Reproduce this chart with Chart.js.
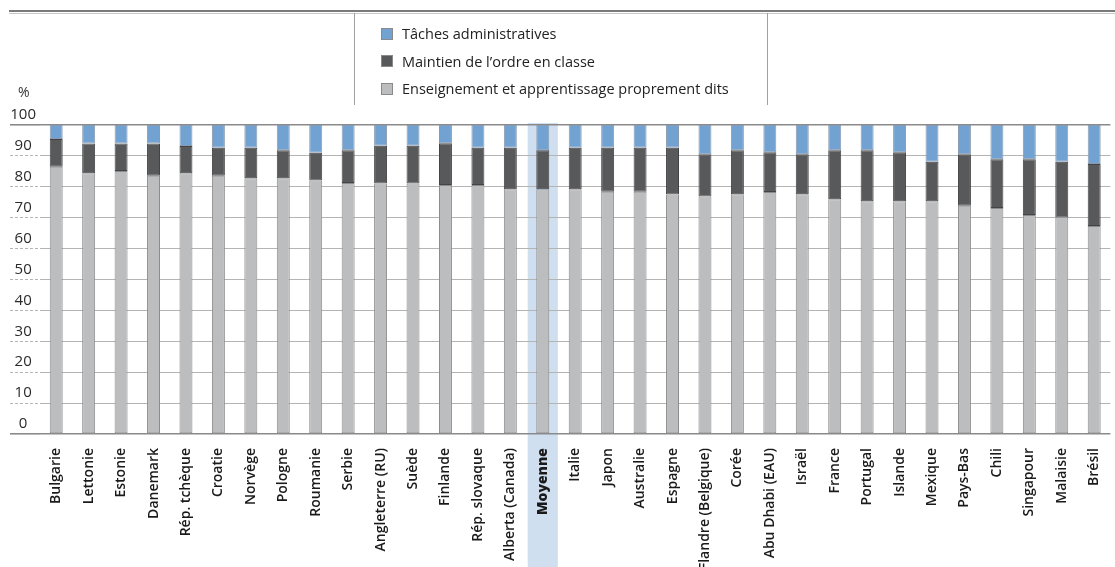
<!DOCTYPE html>
<html lang="fr">
<head>
<meta charset="utf-8">
<title>Répartition du temps de classe</title>
<script src="https://cdn.jsdelivr.net/npm/chart.js@4.4.1/dist/chart.umd.min.js"></script>
<style>
  html, body { margin: 0; padding: 0; background: #fff; overflow: hidden; }
  #wrap { position: relative; width: 1117px; height: 567px; }
  #chart { position: absolute; left: 0; top: 0; }
  .rule { position: absolute; left: 9px; right: 0; top: 10px; height: 1px; border-top: 2px solid #7a7a7a; border-bottom: 1px solid #c8c8c8; }
  .vline { position: absolute; top: 13px; height: 92px; width: 1px; background: #a0a0a0; }
  #legend { position: absolute; left: 381px; top: 20px; font-family: "Open Sans", sans-serif; font-size: 14.5px; color: #222; }
  #legend .item { height: 27.5px; display: flex; align-items: center; }
  #legend .box { width: 12px; height: 12px; margin-right: 9px; box-sizing: border-box; border: 1px solid #8a8a8a; }
  #unit { position: absolute; left: 18px; top: 82px; font-family: "Open Sans", sans-serif; font-size: 14px; color: #333; }
</style>
</head>
<body>
<div id="wrap">
  <canvas id="chart" width="1117" height="567"></canvas>
  <div class="rule"></div>
  <div class="vline" style="left:354px"></div>
  <div class="vline" style="left:767px"></div>
  <div id="legend"></div>
  <div id="unit">%</div>
</div>
<script>
// Share of lesson time, in %
const pays = ['Bulgarie', 'Lettonie', 'Estonie', 'Danemark', 'Rép. tchèque', 'Croatie', 'Norvège',
  'Pologne', 'Roumanie', 'Serbie', 'Angleterre (RU)', 'Suède', 'Finlande', 'Rép. slovaque',
  'Alberta (Canada)', 'Moyenne', 'Italie', 'Japon', 'Australie', 'Espagne', 'Flandre (Belgique)',
  'Corée', 'Abu Dhabi (EAU)', 'Israël', 'France', 'Portugal', 'Islande', 'Mexique', 'Pays-Bas',
  'Chili', 'Singapour', 'Malaisie', 'Brésil'];

const enseignement = [86.5, 84.4, 85.1, 83.6, 84.4, 83.6, 82.8, 82.8, 82.0, 81.2, 81.1, 81.1, 80.6,
  80.6, 79.2, 79.2, 79.2, 78.4, 78.4, 77.5, 76.9, 77.6, 78.3, 77.6, 76.0, 75.3, 75.3, 75.3, 73.9,
  73.1, 70.9, 70.1, 67.3];
const ordre = [9.0, 9.6, 8.9, 10.4, 8.8, 9.0, 9.8, 9.0, 9.0, 10.6, 12.2, 12.2, 13.5, 12.0, 13.4,
  12.6, 13.4, 14.2, 14.2, 15.1, 13.6, 14.2, 12.9, 12.9, 15.8, 16.5, 15.9, 12.8, 16.6, 15.8, 18.0,
  18.0, 20.1];
const administratives = [4.5, 6.0, 6.0, 6.0, 6.8, 7.4, 7.4, 8.2, 9.0, 8.2, 6.7, 6.7, 5.9, 7.4, 7.4,
  8.2, 7.4, 7.4, 7.4, 7.4, 9.5, 8.2, 8.8, 9.5, 8.2, 8.2, 8.8, 11.9, 9.5, 11.1, 11.1, 11.9, 12.6];

const yTicks = [0, 10, 20, 30, 40, 50, 60, 70, 80, 90, 100];
const moyenneIdx = pays.indexOf('Moyenne');

// light band behind the average column
const highlight = {
  id: 'highlight',
  beforeDraw(chart) {
    const { ctx, scales: { x }, chartArea } = chart;
    const step = x.getPixelForValue(1) - x.getPixelForValue(0);
    const cx = x.getPixelForValue(moyenneIdx);
    const w = step * 0.93;
    ctx.save();
    ctx.fillStyle = '#cfdff0';
    ctx.fillRect(cx - w / 2, chartArea.top - 2, w, chart.height - chartArea.top + 2);
    ctx.restore();
  }
};

const chart = new Chart(document.getElementById('chart'), {
  type: 'bar',
  data: {
    labels: pays,
    datasets: [
      { label: 'Enseignement et apprentissage proprement dits', data: enseignement,
        backgroundColor: '#bcbdbf', borderColor: '#8c8c8c' },
      { label: 'Maintien de l\u2019ordre en classe', data: ordre,
        backgroundColor: '#58595b', borderColor: '#444446' },
      { label: 'Tâches administratives', data: administratives,
        backgroundColor: '#72a2d1', borderColor: '#8a9bb0' }
    ]
  },
  options: {
    responsive: false,
    animation: false,
    events: [],
    layout: { padding: { top: 125, left: 10, right: 0, bottom: 0 } },
    datasets: {
      bar: { barPercentage: 0.4, categoryPercentage: 1, borderWidth: 1, borderSkipped: false }
    },
    plugins: { legend: { display: false }, tooltip: { enabled: false } },
    scales: {
      x: {
        stacked: true,
        grid: { display: false },
        border: { display: false },
        ticks: {
          autoSkip: false,
          maxRotation: 90,
          minRotation: 90,
          padding: 6,
          color: '#1a1a1a',
          font: ctx => ({ family: '"Open Sans", sans-serif', size: 14,
            weight: ctx.index === moyenneIdx ? 800 : 600 })
        },
        afterFit: scale => { scale.height = 133; }
      },
      y: {
        stacked: true,
        min: 0,
        max: 100,
        border: { display: false },
        afterBuildTicks: scale => { scale.ticks = yTicks.map(v => ({ value: v })); },
        afterFit: scale => { scale.width = 30; },
        grid: {
          tickLength: 30,
          color: ctx => (ctx.tick.value % 100 === 0 ? '#8a8a8a' : '#b4b4b4'),
          tickColor: ctx => (ctx.tick.value % 100 === 0 ? '#8a8a8a' : '#b4b4b4'),
          lineWidth: ctx => (ctx.tick.value % 100 === 0 ? 1.6 : 1),
          tickWidth: ctx => (ctx.tick.value % 100 === 0 ? 1.6 : 1),
          borderDash: ctx => (ctx.tick.value % 100 === 0 ? [] : [3, 2]),
          tickBorderDash: ctx => (ctx.tick.value % 100 === 0 ? [] : [3, 2])
        },
        ticks: {
          crossAlign: 'center',
          padding: -26,
          labelOffset: -10,
          color: '#2a2a2a',
          font: { family: '"Open Sans", sans-serif', size: 15 }
        }
      }
    }
  },
  plugins: [highlight]
});

// legend, top entry first
const legend = document.getElementById('legend');
chart.data.datasets.slice().reverse().forEach(ds => {
  const item = document.createElement('div');
  item.className = 'item';
  const box = document.createElement('span');
  box.className = 'box';
  box.style.background = ds.backgroundColor;
  const txt = document.createElement('span');
  txt.textContent = ds.label;
  item.appendChild(box);
  item.appendChild(txt);
  legend.appendChild(item);
});
</script>
</body>
</html>
